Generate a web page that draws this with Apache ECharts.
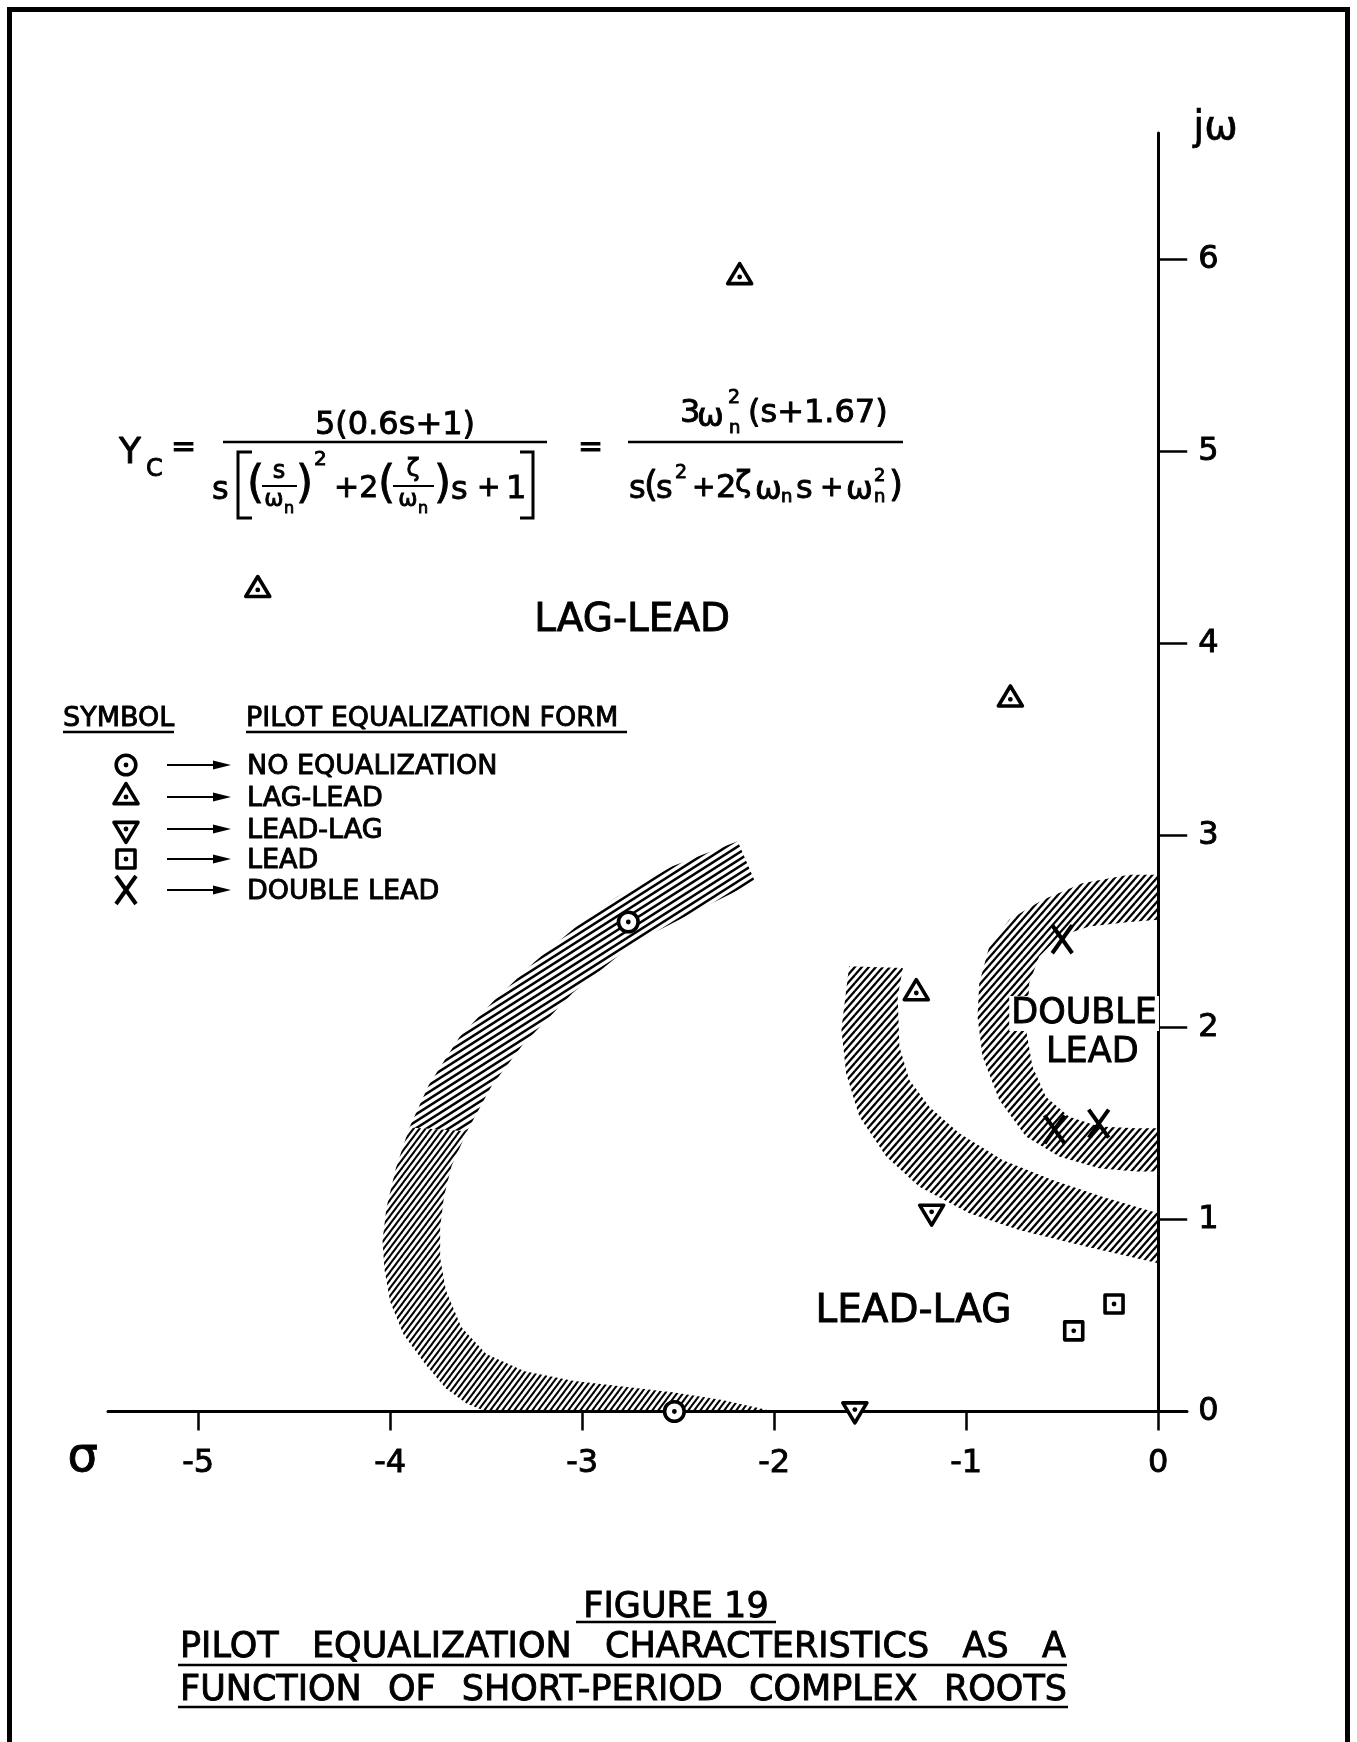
<!DOCTYPE html>
<html>
<head>
<meta charset="utf-8">
<title>Figure 19 - Pilot equalization characteristics</title>
<script src="https://cdn.jsdelivr.net/npm/echarts@6.0.0/dist/echarts.min.js"></script>
<style>
  html, body { margin: 0; padding: 0; background: #fff; }
  #chart { width: 1357px; height: 1742px; }
</style>
</head>
<body>
<div id="chart"></div>
<script>
const FONT = '"DejaVu Sans", "Liberation Sans", sans-serif';

// ---- axes ----
const xMin = -5.47, xMax = 0.15, yMin = 0, yMax = 6.66;
const xTickValues = [-5, -4, -3, -2, -1, 0];
const xTickLabels = ['-5', '-4', '-3', '-2', '-1', '0'];
const yTickValues = [1, 2, 3, 4, 5, 6];
const yLabelValues = [0, 1, 2, 3, 4, 5, 6];
const yTickLabels = ['0', '1', '2', '3', '4', '5', '6'];

// ---- short-period roots (sigma, omega) by equalization form ----
const noEqualization = [[-2.76, 2.55], [-2.52, 0.0]];
const lagLead = [[-2.18, 5.91], [-4.69, 4.28], [-0.77, 3.71], [-1.26, 2.18]];
const leadLag = [[-1.18, 1.04], [-1.58, 0.01]];
const lead = [[-0.23, 0.56], [-0.44, 0.42]];
const doubleLead = [[-0.50, 2.46], [-0.54, 1.47], [-0.31, 1.50]];

// ---- boundary bands (outer edge, inner edge) ----
const leftBandUpperOuter = [[-2.19, 2.97], [-2.53, 2.84], [-2.82, 2.68], [-2.98, 2.57], [-3.25, 2.34],
  [-3.46, 2.14], [-3.64, 1.95], [-3.80, 1.70], [-3.90, 1.48]];
const leftBandUpperInner = [[-2.10, 2.76], [-2.44, 2.59], [-2.73, 2.44], [-3.05, 2.18], [-3.31, 1.91],
  [-3.47, 1.70], [-3.60, 1.46]];
const leftBandLowerOuter = [[-3.90, 1.48], [-3.97, 1.27], [-4.02, 1.06], [-4.04, 0.89], [-4.03, 0.74],
  [-4.00, 0.57], [-3.93, 0.40], [-3.82, 0.25], [-3.71, 0.12], [-3.60, 0.04], [-3.50, 0.0], [-2.00, 0.0]];
const leftBandLowerInner = [[-3.60, 1.46], [-3.68, 1.28], [-3.72, 1.12], [-3.74, 0.96], [-3.74, 0.80],
  [-3.71, 0.63], [-3.63, 0.44], [-3.50, 0.30], [-3.30, 0.21], [-3.05, 0.16], [-2.79, 0.13], [-2.53, 0.10],
  [-2.27, 0.06], [-2.00, 0.0]];
const middleBandOuter = [[-1.61, 2.32], [-1.65, 1.99], [-1.625, 1.76], [-1.556, 1.536], [-1.417, 1.328],
  [-1.244, 1.171], [-0.984, 1.033], [-0.724, 0.946], [-0.377, 0.859], [0, 0.772]];
const middleBandInner = [[-1.33, 2.31], [-1.357, 2.16], [-1.348, 1.90], [-1.296, 1.727], [-1.192, 1.588],
  [-1.036, 1.45], [-0.811, 1.31], [-0.551, 1.206], [-0.291, 1.119], [0, 1.033]];
const doubleLeadOuter = [[0, 2.796], [-0.152, 2.796], [-0.395, 2.752], [-0.603, 2.665], [-0.776, 2.561],
  [-0.88, 2.422], [-0.932, 2.231], [-0.941, 2.057], [-0.915, 1.849], [-0.828, 1.623], [-0.689, 1.432],
  [-0.516, 1.328], [-0.308, 1.267], [-0.117, 1.25], [0, 1.25]];
const doubleLeadInner = [[0, 2.561], [-0.152, 2.55], [-0.36, 2.526], [-0.516, 2.474], [-0.62, 2.37],
  [-0.672, 2.231], [-0.685, 1.971], [-0.655, 1.797], [-0.585, 1.64], [-0.464, 1.536], [-0.308, 1.484],
  [-0.117, 1.476], [0, 1.476]];

// ---- region names ----
const regionLabels = ['LAG-LEAD', 'LEAD-LAG', 'DOUBLE', 'LEAD'];
const regionLabelPos = [[-2.74, 4.13], [-1.275, 0.527], [-0.386, 2.084], [-0.343, 1.881]];

// ---- legend and caption ----
const legendSymbols = ['circle', 'triUp', 'triDown', 'square', 'cross'];
const legendLabels = ['NO EQUALIZATION', 'LAG-LEAD', 'LEAD-LAG', 'LEAD', 'DOUBLE LEAD'];
const captionTitle = 'FIGURE 19';
const captionLine1 = ['PILOT', 'EQUALIZATION', 'CHARACTERISTICS', 'AS', 'A'];
const captionLine2 = ['FUNCTION', 'OF', 'SHORT-PERIOD', 'COMPLEX', 'ROOTS'];

// diagonal hatching tile: lines rising to the right
function hatch(w, h, lw) {
  const c = document.createElement('canvas');
  c.width = w; c.height = h;
  const g = c.getContext('2d');
  g.strokeStyle = '#000';
  g.lineWidth = lw;
  for (const k of [-1, 0, 1]) {
    g.beginPath();
    g.moveTo(w * (k - 1), 2 * h);
    g.lineTo(w * (k + 2), -h);
    g.stroke();
  }
  return { image: c, repeat: 'repeat' };
}
const hatchShallow = hatch(11, 7, 2.5);
const hatchSteep = hatch(6, 8, 2.0);
const hatchMid = hatch(7, 8, 2.3);

// plotting symbols, drawn at a pixel centre
function makeSymbol(kind, cx, cy) {
  const ink = '#000';
  const dot = { type: 'circle', shape: { cx, cy, r: 2.4 }, style: { fill: ink } };
  const outline = { fill: '#fff', stroke: ink, lineWidth: 3.6, lineJoin: 'round' };
  const h = 20, w = 24;
  switch (kind) {
    case 'circle':
      return [{ type: 'circle', shape: { cx, cy, r: 9.8 }, style: outline }, dot];
    case 'triUp':
      return [{ type: 'polygon', shape: { points: [[cx, cy - 2 * h / 3], [cx + w / 2, cy + h / 3], [cx - w / 2, cy + h / 3]] }, style: outline }, dot];
    case 'triDown':
      return [{ type: 'polygon', shape: { points: [[cx, cy + 2 * h / 3], [cx + w / 2, cy - h / 3], [cx - w / 2, cy - h / 3]] }, style: outline }, dot];
    case 'square':
      return [{ type: 'rect', shape: { x: cx - 9, y: cy - 9, width: 18, height: 18 }, style: outline }, dot];
    case 'cross':
    default:
      return [
        { type: 'line', shape: { x1: cx - 10, y1: cy - 14, x2: cx + 10, y2: cy + 14 }, style: { stroke: ink, lineWidth: 4 } },
        { type: 'line', shape: { x1: cx + 10, y1: cy - 14, x2: cx - 10, y2: cy + 14 }, style: { stroke: ink, lineWidth: 4 } }
      ];
  }
}

function bandSeries(name, outer, inner, pattern) {
  const ring = outer.concat(inner.slice().reverse());
  return {
    type: 'custom', name, coordinateSystem: 'cartesian2d', data: ring, z: 2, silent: true,
    renderItem: (params, api) => params.dataIndex === 0
      ? { type: 'polygon', shape: { points: ring.map(p => api.coord(p)) }, style: { fill: pattern, stroke: null } }
      : null
  };
}

function markerSeries(name, points, kind) {
  return {
    type: 'custom', name, coordinateSystem: 'cartesian2d', data: points, z: 5, silent: true,
    encode: { x: 0, y: 1 },
    renderItem: (params, api) => {
      const p = api.coord([api.value(0), api.value(1)]);
      return { type: 'group', children: makeSymbol(kind, p[0], p[1]) };
    }
  };
}

// heavier lettering: glyph fill plus a thin outline of the same ink
function letter(text, size, align, extra) {
  return Object.assign({ text, fontFamily: FONT, fontSize: size, fill: '#000', stroke: '#000', lineWidth: 0.9,
    align: align || 'left', verticalAlign: 'middle' }, extra || {});
}

const regionSizes = [39, 39, 35, 35];
const regionSeries = {
  type: 'custom', name: 'regions', coordinateSystem: 'cartesian2d', data: regionLabelPos, z: 4, silent: true,
  encode: { x: 0, y: 1 },
  renderItem: (params, api) => {
    const p = api.coord([api.value(0), api.value(1)]);
    const i = params.dataIndex;
    const knockout = i >= 2;
    return {
      type: 'text', x: p[0], y: p[1] + 2,
      style: letter(regionLabels[i], regionSizes[i], 'center',
        knockout ? { backgroundColor: '#fff', padding: [0, 2, 0, 2] } : {})
    };
  }
};

// sigma title placed just below the start of the real axis
const sigmaSeries = {
  type: 'custom', name: 'sigma', coordinateSystem: 'cartesian2d', data: [[xMin, 0]], z: 4, silent: true,
  encode: { x: 0, y: 1 },
  renderItem: (params, api) => {
    const p = api.coord([api.value(0), api.value(1)]);
    return { type: 'text', x: p[0] - 10, y: p[1] + 47, style: letter('σ', 48, 'right') };
  }
};

// ---- static lettering ----
function T(text, x, y, size, align) {
  return { type: 'text', x, y: y + 2, silent: true, style: letter(text, size, align) };
}
function L(x1, y1, x2, y2, lw) {
  return { type: 'line', silent: true, shape: { x1, y1, x2, y2 }, style: { stroke: '#000', lineWidth: lw || 2.5 } };
}
function P(points, lw) {
  return { type: 'polyline', silent: true, shape: { points }, style: { stroke: '#000', lineWidth: lw || 3, fill: null } };
}

const measure = document.createElement('canvas').getContext('2d');
function justify(words, x0, x1, y, size) {
  measure.font = size + 'px ' + FONT;
  const widths = words.map(w => measure.measureText(w).width);
  const total = widths.reduce((a, b) => a + b, 0);
  const gap = (x1 - x0 - total) / (words.length - 1);
  let x = x0;
  return words.map((w, i) => { const el = T(w, x, y, size); x += widths[i] + gap; return el; });
}

const formula = [
  T('Y', 119, 452, 36), T('C', 146, 468, 24), T('=', 171, 446, 30),
  T('5(0.6s+1)', 395, 424, 32, 'center'),
  L(223, 442, 547, 442, 2.5),
  T('s', 212, 489, 32),
  P([[252, 452], [238, 452], [238, 518], [252, 518]], 3),
  T('(', 247, 484, 44),
  T('s', 279, 470, 24, 'center'), L(262, 486, 297, 486, 2), T('ω', 274, 498, 23, 'center'), T('n', 284, 507, 16),
  T(')', 296, 484, 44), T('2', 314, 458, 20),
  T('+2', 334, 487, 30),
  T('(', 378, 484, 44),
  T('ζ', 413, 468, 24, 'center'), L(393, 486, 434, 486, 2), T('ω', 408, 498, 23, 'center'), T('n', 418, 507, 16),
  T(')', 434, 484, 44),
  T('s', 451, 489, 32), T('+', 477, 487, 28), T('1', 506, 488, 32),
  P([[520, 452], [533, 452], [533, 518], [520, 518]], 3),
  T('=', 578, 446, 30),
  T('3', 680, 412, 32), T('ω', 697, 416, 32), T('2', 728, 396, 19), T('n', 729, 426, 18),
  T('(s+1.67)', 748, 412, 32),
  L(628, 442, 903, 442, 2.5),
  T('s', 629, 488, 32), T('(', 644, 485, 36), T('s', 656, 488, 32), T('2', 675, 471, 19),
  T('+', 692, 487, 28), T('2', 716, 487, 32), T('ζ', 735, 482, 30), T('ω', 755, 489, 32), T('n', 781, 495, 18),
  T('s', 796, 488, 32), T('+', 820, 487, 28), T('ω', 846, 489, 32), T('2', 874, 474, 18), T('n', 874, 495, 18),
  T(')', 889, 485, 36)
];

const legendRowsY = [765, 797, 829, 859, 890];
const legend = [
  T('SYMBOL', 63, 717, 27), L(63, 732, 174, 732, 2.5),
  T('PILOT EQUALIZATION FORM', 246, 717, 27), L(246, 732, 627, 732, 2.5)
];
legendSymbols.forEach((kind, i) => {
  const y = legendRowsY[i];
  legend.push({ type: 'group', silent: true, children: makeSymbol(kind, 126, y) });
  legend.push(L(167, y, 218, y, 2.2));
  legend.push({ type: 'polygon', silent: true, shape: { points: [[213, y - 4.5], [231, y], [213, y + 4.5]] }, style: { fill: '#000' } });
  legend.push(T(legendLabels[i], 247, y, 27));
});

const caption = [
  T(captionTitle, 676, 1606, 35, 'center'), L(576, 1622, 776, 1622, 2.5),
  ...justify(captionLine1, 180, 1066, 1646, 35), L(178, 1665, 1067, 1665, 2.5),
  ...justify(captionLine2, 180, 1067, 1689, 35), L(178, 1707, 1068, 1707, 2.5)
];

const frame = { type: 'rect', silent: true, shape: { x: 9.5, y: 9.5, width: 1338, height: 1800 },
  style: { fill: 'none', stroke: '#000', lineWidth: 5 } };

const gridBox = { left: 108, right: 170, top: 133, bottom: 330.5 };
const gridWidth = 1357 - gridBox.left - gridBox.right;
// the imaginary axis sits at sigma = 0, inside the right edge of the plot box
const yAxisOffset = -gridWidth * xMax / (xMax - xMin);

const axisText = { fontFamily: FONT, fontSize: 32, color: '#000', textBorderColor: '#000', textBorderWidth: 0.9 };
const ink = { color: '#000', width: 3 };

const chart = echarts.init(document.getElementById('chart'), null, { renderer: 'canvas' });
chart.setOption({
  backgroundColor: '#fff',
  animation: false,
  grid: gridBox,
  xAxis: {
    type: 'value', min: xMin, max: xMax,
    axisLine: { show: true, onZero: true, lineStyle: ink },
    axisTick: { show: true, customValues: xTickValues, length: 19, lineStyle: { color: '#000', width: 2.5 } },
    axisLabel: { show: true, customValues: xTickValues, margin: 36, ...axisText,
      formatter: v => xTickLabels[xTickValues.indexOf(v)] },
    splitLine: { show: false }
  },
  yAxis: {
    type: 'value', min: yMin, max: yMax, position: 'right', offset: yAxisOffset,
    name: 'jω', nameLocation: 'end', nameGap: 4,
    nameTextStyle: { fontFamily: FONT, fontSize: 40, color: '#000', align: 'left', verticalAlign: 'middle',
      padding: [0, 0, 0, 35], textBorderColor: '#000', textBorderWidth: 0.6 },
    axisLine: { show: true, onZero: false, lineStyle: ink },
    axisTick: { show: true, customValues: yTickValues, length: 29, lineStyle: { color: '#000', width: 2.5 } },
    axisLabel: { show: true, customValues: yLabelValues, margin: 40, align: 'left', ...axisText,
      formatter: v => yTickLabels[yLabelValues.indexOf(v)] },
    splitLine: { show: false }
  },
  graphic: { elements: [frame, ...formula, ...legend, ...caption] },
  series: [
    bandSeries('left band upper', leftBandUpperOuter, leftBandUpperInner, hatchShallow),
    bandSeries('left band lower', leftBandLowerOuter, leftBandLowerInner, hatchSteep),
    bandSeries('middle band', middleBandOuter, middleBandInner, hatchMid),
    bandSeries('double lead band', doubleLeadOuter, doubleLeadInner, hatchMid),
    regionSeries,
    sigmaSeries,
    markerSeries('NO EQUALIZATION', noEqualization, 'circle'),
    markerSeries('LAG-LEAD', lagLead, 'triUp'),
    markerSeries('LEAD-LAG', leadLag, 'triDown'),
    markerSeries('LEAD', lead, 'square'),
    markerSeries('DOUBLE LEAD', doubleLead, 'cross')
  ]
});
</script>
</body>
</html>
